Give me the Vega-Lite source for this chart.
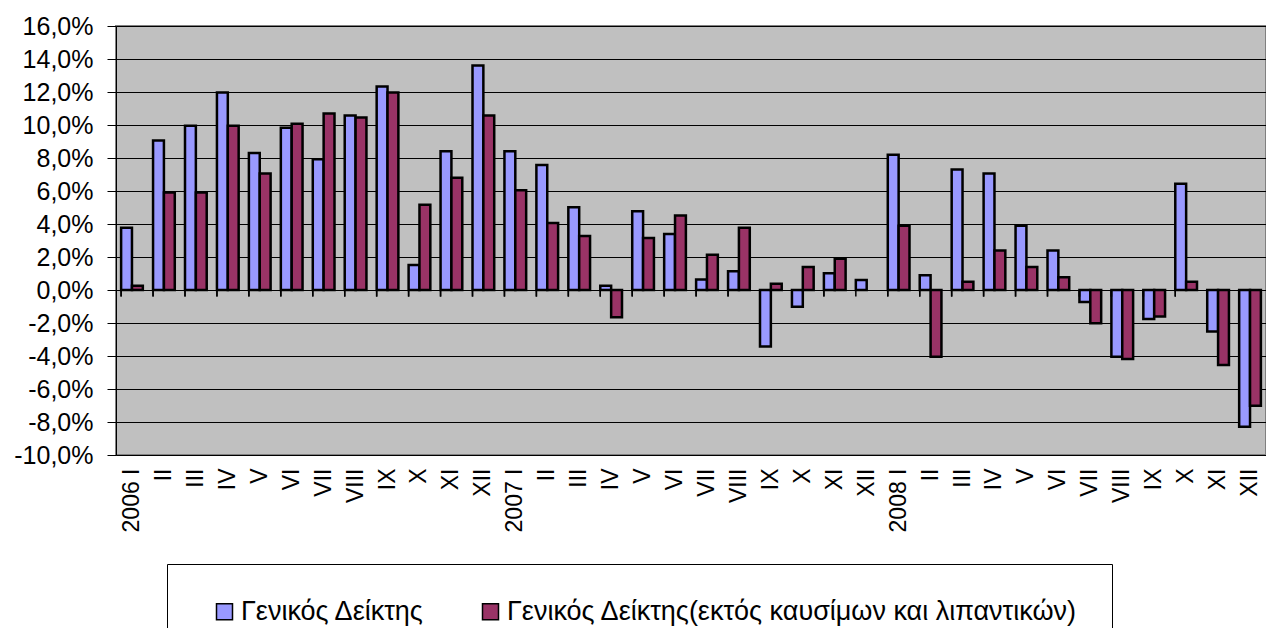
{
  "$schema": "https://vega.github.io/schema/vega-lite/v6.json",
  "width": 1150,
  "height": 429,
  "autosize": {"type": "none"},
  "padding": {"left": 116, "top": 26, "right": 0, "bottom": 173},
  "background": "white",
  "config": {
    "font": "Liberation Sans",
    "view": {"fill": "#C0C0C0", "stroke": "#808080", "strokeWidth": 2}
  },
  "data": {
    "values": [
      {"m": "2006 I", "s": "Γενικός Δείκτης", "v": 3.77},
      {"m": "2006 I", "s": "Γενικός Δείκτης(εκτός καυσίμων και λιπαντικών)", "v": 0.26},
      {"m": "2006 II", "s": "Γενικός Δείκτης", "v": 9.06},
      {"m": "2006 II", "s": "Γενικός Δείκτης(εκτός καυσίμων και λιπαντικών)", "v": 5.91},
      {"m": "2006 III", "s": "Γενικός Δείκτης", "v": 9.95},
      {"m": "2006 III", "s": "Γενικός Δείκτης(εκτός καυσίμων και λιπαντικών)", "v": 5.91},
      {"m": "2006 IV", "s": "Γενικός Δείκτης", "v": 11.97},
      {"m": "2006 IV", "s": "Γενικός Δείκτης(εκτός καυσίμων και λιπαντικών)", "v": 9.95},
      {"m": "2006 V", "s": "Γενικός Δείκτης", "v": 8.31},
      {"m": "2006 V", "s": "Γενικός Δείκτης(εκτός καυσίμων και λιπαντικών)", "v": 7.06},
      {"m": "2006 VI", "s": "Γενικός Δείκτης", "v": 9.83},
      {"m": "2006 VI", "s": "Γενικός Δείκτης(εκτός καυσίμων και λιπαντικών)", "v": 10.07},
      {"m": "2006 VII", "s": "Γενικός Δείκτης", "v": 7.93},
      {"m": "2006 VII", "s": "Γενικός Δείκτης(εκτός καυσίμων και λιπαντικών)", "v": 10.69},
      {"m": "2006 VIII", "s": "Γενικός Δείκτης", "v": 10.57},
      {"m": "2006 VIII", "s": "Γενικός Δείκτης(εκτός καυσίμων και λιπαντικών)", "v": 10.45},
      {"m": "2006 IX", "s": "Γενικός Δείκτης", "v": 12.33},
      {"m": "2006 IX", "s": "Γενικός Δείκτης(εκτός καυσίμων και λιπαντικών)", "v": 11.97},
      {"m": "2006 X", "s": "Γενικός Δείκτης", "v": 1.51},
      {"m": "2006 X", "s": "Γενικός Δείκτης(εκτός καυσίμων και λιπαντικών)", "v": 5.17},
      {"m": "2006 XI", "s": "Γενικός Δείκτης", "v": 8.41},
      {"m": "2006 XI", "s": "Γενικός Δείκτης(εκτός καυσίμων και λιπαντικών)", "v": 6.8},
      {"m": "2006 XII", "s": "Γενικός Δείκτης", "v": 13.6},
      {"m": "2006 XII", "s": "Γενικός Δείκτης(εκτός καυσίμων και λιπαντικών)", "v": 10.57},
      {"m": "2007 I", "s": "Γενικός Δείκτης", "v": 8.41},
      {"m": "2007 I", "s": "Γενικός Δείκτης(εκτός καυσίμων και λιπαντικών)", "v": 6.05},
      {"m": "2007 II", "s": "Γενικός Δείκτης", "v": 7.57},
      {"m": "2007 II", "s": "Γενικός Δείκτης(εκτός καυσίμων και λιπαντικών)", "v": 4.06},
      {"m": "2007 III", "s": "Γενικός Δείκτης", "v": 5.02},
      {"m": "2007 III", "s": "Γενικός Δείκτης(εκτός καυσίμων και λιπαντικών)", "v": 3.27},
      {"m": "2007 IV", "s": "Γενικός Δείκτης", "v": 0.26},
      {"m": "2007 IV", "s": "Γενικός Δείκτης(εκτός καυσίμων και λιπαντικών)", "v": -1.65},
      {"m": "2007 V", "s": "Γενικός Δείκτης", "v": 4.78},
      {"m": "2007 V", "s": "Γενικός Δείκτης(εκτός καυσίμων και λιπαντικών)", "v": 3.15},
      {"m": "2007 VI", "s": "Γενικός Δείκτης", "v": 3.39},
      {"m": "2007 VI", "s": "Γενικός Δείκτης(εκτός καυσίμων και λιπαντικών)", "v": 4.52},
      {"m": "2007 VII", "s": "Γενικός Δείκτης", "v": 0.63},
      {"m": "2007 VII", "s": "Γενικός Δείκτης(εκτός καυσίμων και λιπαντικών)", "v": 2.14},
      {"m": "2007 VIII", "s": "Γενικός Δείκτης", "v": 1.13},
      {"m": "2007 VIII", "s": "Γενικός Δείκτης(εκτός καυσίμων και λιπαντικών)", "v": 3.77},
      {"m": "2007 IX", "s": "Γενικός Δείκτης", "v": -3.43},
      {"m": "2007 IX", "s": "Γενικός Δείκτης(εκτός καυσίμων και λιπαντικών)", "v": 0.38},
      {"m": "2007 X", "s": "Γενικός Δείκτης", "v": -1.01},
      {"m": "2007 X", "s": "Γενικός Δείκτης(εκτός καυσίμων και λιπαντικών)", "v": 1.39},
      {"m": "2007 XI", "s": "Γενικός Δείκτης", "v": 1.01},
      {"m": "2007 XI", "s": "Γενικός Δείκτης(εκτός καυσίμων και λιπαντικών)", "v": 1.9},
      {"m": "2007 XII", "s": "Γενικός Δείκτης", "v": 0.6},
      {"m": "2008 I", "s": "Γενικός Δείκτης", "v": 8.19},
      {"m": "2008 I", "s": "Γενικός Δείκτης(εκτός καυσίμων και λιπαντικών)", "v": 3.89},
      {"m": "2008 II", "s": "Γενικός Δείκτης", "v": 0.89},
      {"m": "2008 II", "s": "Γενικός Δείκτης(εκτός καυσίμων και λιπαντικών)", "v": -4.04},
      {"m": "2008 III", "s": "Γενικός Δείκτης", "v": 7.3},
      {"m": "2008 III", "s": "Γενικός Δείκτης(εκτός καυσίμων και λιπαντικών)", "v": 0.5},
      {"m": "2008 IV", "s": "Γενικός Δείκτης", "v": 7.06},
      {"m": "2008 IV", "s": "Γενικός Δείκτης(εκτός καυσίμων και λιπαντικών)", "v": 2.4},
      {"m": "2008 V", "s": "Γενικός Δείκτης", "v": 3.89},
      {"m": "2008 V", "s": "Γενικός Δείκτης(εκτός καυσίμων και λιπαντικών)", "v": 1.39},
      {"m": "2008 VI", "s": "Γενικός Δείκτης", "v": 2.4},
      {"m": "2008 VI", "s": "Γενικός Δείκτης(εκτός καυσίμων και λιπαντικών)", "v": 0.77},
      {"m": "2008 VII", "s": "Γενικός Δείκτης", "v": -0.73},
      {"m": "2008 VII", "s": "Γενικός Δείκτης(εκτός καυσίμων και λιπαντικών)", "v": -2.02},
      {"m": "2008 VIII", "s": "Γενικός Δείκτης", "v": -4.04},
      {"m": "2008 VIII", "s": "Γενικός Δείκτης(εκτός καυσίμων και λιπαντικών)", "v": -4.18},
      {"m": "2008 IX", "s": "Γενικός Δείκτης", "v": -1.76},
      {"m": "2008 IX", "s": "Γενικός Δείκτης(εκτός καυσίμων και λιπαντικών)", "v": -1.61},
      {"m": "2008 X", "s": "Γενικός Δείκτης", "v": 6.44},
      {"m": "2008 X", "s": "Γενικός Δείκτης(εκτός καυσίμων και λιπαντικών)", "v": 0.5},
      {"m": "2008 XI", "s": "Γενικός Δείκτης", "v": -2.52},
      {"m": "2008 XI", "s": "Γενικός Δείκτης(εκτός καυσίμων και λιπαντικών)", "v": -4.54},
      {"m": "2008 XII", "s": "Γενικός Δείκτης", "v": -8.29},
      {"m": "2008 XII", "s": "Γενικός Δείκτης(εκτός καυσίμων και λιπαντικών)", "v": -7.02}
    ]
  },
  "encoding": {
    "x": {
      "field": "m",
      "type": "nominal",
      "sort": null,
      "scale": {"paddingInner": 0.32, "paddingOuter": 0.16},
      "axis": {
        "title": null,
        "domain": false,
        "ticks": false,
        "labelAngle": -90,
        "labelPadding": 13,
        "labelFontSize": 23,
        "labelColor": "black",
        "labelFont": "Liberation Sans",
        "labelOverlap": false,
        "labelExpr": "substring(datum.value, 5) == 'I' ? datum.value : substring(datum.value, 5)"
      }
    }
  },
  "layer": [
    {
      "mark": {"type": "bar", "stroke": "black", "strokeWidth": 2.5},
      "encoding": {
        "xOffset": {
          "field": "s",
          "type": "nominal",
          "scale": {"domain": ["Γενικός Δείκτης", "Γενικός Δείκτης(εκτός καυσίμων και λιπαντικών)"]}
        },
        "y": {
          "field": "v",
          "type": "quantitative",
          "scale": {"domain": [-10, 16], "nice": false},
          "axis": {
            "title": null,
            "values": [-10, -8, -6, -4, -2, 0, 2, 4, 6, 8, 10, 12, 14, 16],
            "tickCount": 30,
            "labelExpr": "replace(replace(format(datum.value, '.1f'), '.', ','), '−', '-') + '%'",
            "labelOverlap": false,
            "labelFontSize": 25,
            "labelColor": "black",
            "labelFont": "Liberation Sans",
            "labelPadding": 14,
            "tickSize": 9,
            "tickColor": "black",
            "domainColor": "black",
            "domainWidth": 1,
            "gridColor": "black",
            "gridWidth": 1,
            "gridOpacity": 1
          }
        },
        "color": {
          "field": "s",
          "type": "nominal",
          "scale": {
            "domain": ["Γενικός Δείκτης", "Γενικός Δείκτης(εκτός καυσίμων και λιπαντικών)"],
            "range": ["#9999FF", "#993366"]
          },
          "legend": {
            "title": null,
            "orient": "none",
            "legendX": 51,
            "legendY": 538,
            "direction": "horizontal",
            "fillColor": "white",
            "strokeColor": "black",
            "padding": 34,
            "symbolOffset": 10,
            "columnPadding": 42,
            "symbolType": "square",
            "symbolSize": 256,
            "symbolStrokeColor": "black",
            "symbolStrokeWidth": 1.5,
            "symbolOpacity": 1,
            "labelFontSize": 27,
            "labelFont": "Liberation Sans",
            "labelColor": "black",
            "labelLimit": 1000,
            "labelOffset": 3
          }
        }
      }
    },
    {
      "mark": {"type": "rule", "color": "black", "strokeWidth": 1},
      "encoding": {"y": {"datum": 0}}
    },
    {
      "mark": {"type": "rule", "color": "black", "strokeWidth": 1.5},
      "encoding": {
        "x": {"field": "m", "type": "nominal", "sort": null, "bandPosition": 0},
        "y": {"datum": 0},
        "y2": {"datum": -0.4}
      }
    }
  ]
}
